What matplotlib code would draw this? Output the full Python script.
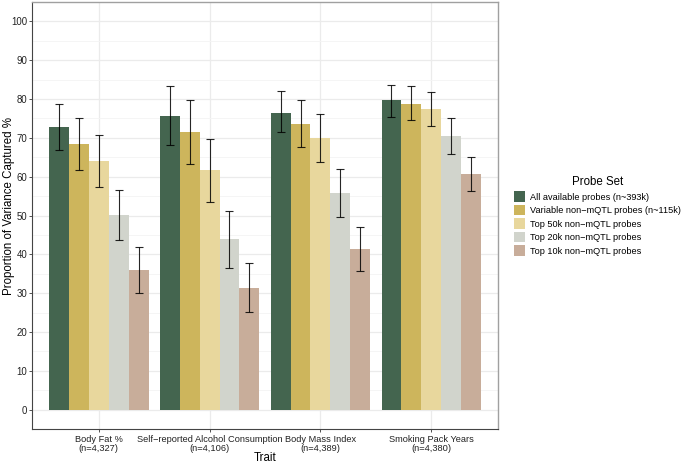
import numpy as np
import matplotlib
matplotlib.use("Agg")
import matplotlib.pyplot as plt
from matplotlib.patches import Patch

plt.rcParams['font.family'] = ['Liberation Sans', 'DejaVu Sans']

traits = ["Body Fat %\n(n=4,327)", "Self\u2212reported Alcohol Consumption\n(n=4,106)",
          "Body Mass Index\n(n=4,389)", "Smoking Pack Years\n(n=4,380)"]
probe_sets = ["All available probes (n~393k)", "Variable non\u2212mQTL probes (n~115k)",
              "Top 50k non\u2212mQTL probes", "Top 20k non\u2212mQTL probes",
              "Top 10k non\u2212mQTL probes"]
colors = ["#44654f", "#cdb55c", "#e8d79d", "#d1d4cc", "#c8ad9a"]

# one row per probe set, one column per trait
values = [
    [72.8, 75.7, 76.5, 79.7],
    [68.4, 71.4, 73.7, 78.8],
    [64.0, 61.6, 69.9, 77.4],
    [50.1, 43.9, 55.7, 70.5],
    [36.0, 31.3, 41.4, 60.7],
]
err_low = [
    [67.0, 68.2, 71.4, 75.4],
    [61.6, 63.2, 67.7, 74.6],
    [57.3, 53.5, 63.8, 73.0],
    [43.6, 36.6, 49.5, 65.9],
    [30.1, 25.1, 35.8, 56.2],
]
err_high = [
    [78.8, 83.4, 82.0, 83.7],
    [75.2, 79.7, 79.8, 83.4],
    [70.8, 69.8, 76.1, 81.8],
    [56.6, 51.2, 61.9, 75.1],
    [42.0, 37.7, 47.1, 65.0],
]

fig = plt.figure(figsize=(6.85, 4.63), dpi=100)
ax = fig.add_axes([32/685, 1 - 429/463, 466/685, 427/463])

x = np.arange(1, len(traits) + 1)
w = 0.9 / len(probe_sets)
for i, (vals, lo, hi, c) in enumerate(zip(values, err_low, err_high, colors)):
    pos = x - 0.45 + w * (i + 0.5)
    vals = np.array(vals)
    ax.bar(pos, vals, width=w, color=c, zorder=2)
    ax.errorbar(pos, vals, yerr=[vals - np.array(lo), np.array(hi) - vals],
                fmt="none", ecolor="black", elinewidth=0.8, capsize=3,
                capthick=0.8, alpha=0.85, zorder=3)

ax.set_xlim(0.4, 4.6)
ax.set_ylim(-5, 105)
ax.set_yticks(np.arange(0, 101, 10))
ax.set_yticks(np.arange(5, 101, 10), minor=True)
ax.set_xticks(x)
ax.set_xticklabels(traits, fontsize=6.7, color="#222222", linespacing=1.0)
ax.tick_params(axis="y", labelsize=6.9, labelcolor="#222222", length=2.5,
               width=0.6, color="#333333", pad=1)
ax.tick_params(axis="y", which="minor", length=0)
ax.tick_params(axis="x", length=2.5, width=0.6, color="#333333", pad=2)
ax.grid(True, which="major", color="#ebebeb", linewidth=0.9, zorder=0)
ax.grid(True, which="minor", axis="y", color="#f4f4f4", linewidth=0.6, zorder=0)
ax.set_axisbelow(True)
for side in ["top", "right"]:
    ax.spines[side].set_color("#a0a0a0")
    ax.spines[side].set_linewidth(1.0)
for side in ["left", "bottom"]:
    ax.spines[side].set_color("#444444")
    ax.spines[side].set_linewidth(0.8)

ax.set_ylabel("Proportion of Variance Captured %", fontsize=8.3, va="center")
ax.yaxis.set_label_coords(-0.05, 0.522)
ax.set_xlabel("Trait", fontsize=8.3, va="center")
ax.xaxis.set_label_coords(0.5, -0.068)

handles = [Patch(facecolor=c, edgecolor="none") for c in colors]
leg = fig.legend(handles, probe_sets, loc="center left",
                 bbox_to_anchor=(510/685, 1 - 216/463), frameon=False,
                 title="Probe Set", fontsize=6.6, title_fontsize=8.3,
                 handlelength=1.2, handleheight=1.35, handletextpad=0.6,
                 labelspacing=0.35, borderaxespad=0)

fig.savefig("out.png", dpi=100)
plt.close(fig)
